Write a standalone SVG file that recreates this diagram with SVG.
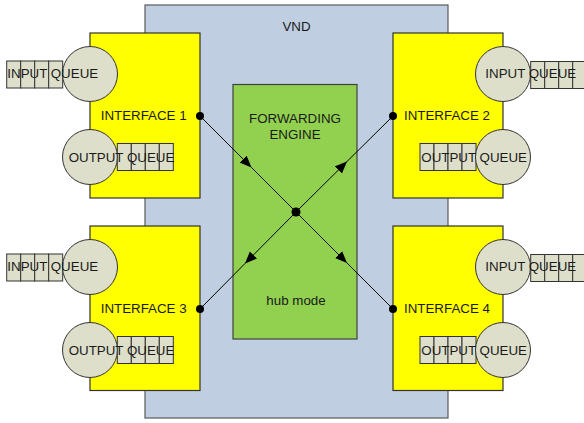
<svg xmlns="http://www.w3.org/2000/svg" width="584" height="423" viewBox="0 0 584 423">
<style>
text{font-family:"Liberation Sans",Arial,sans-serif;font-size:13.33px;fill:#1a1a1a}
.vnd{fill:#BFCFE1;stroke:#5a5a5a;stroke-width:1.2}
.ifc{fill:#FFFF00;stroke:#333;stroke-width:1.2}
.fwd{fill:#92D050;stroke:#404040;stroke-width:1.2}
.q{fill:#DDDFCB;stroke:#333;stroke-width:1}
.cell{fill:#DDDFCB;stroke:#333;stroke-width:1}
.ln{fill:none;stroke:#000;stroke-width:1;marker-mid:url(#arr)}
.dot{fill:#000}
.c{text-anchor:middle}
</style>
<defs>
<marker id="arr" markerUnits="userSpaceOnUse" markerWidth="14" markerHeight="12" refX="12" refY="5" orient="auto">
<path d="M0,0 L12,5 L0,10 Z" fill="#000"/>
</marker>
<g id="cells4">
<rect class="cell" x="0" y="0" width="14" height="27"/>
<rect class="cell" x="14" y="0" width="14" height="27"/>
<rect class="cell" x="28" y="0" width="14" height="27"/>
<rect class="cell" x="42" y="0" width="14" height="27"/>
</g>
</defs>
<g id="vnd">
<rect class="vnd" x="145" y="5" width="303" height="413"/>
<text class="c" x="296.5" y="31">VND</text>
</g>
<g id="forwarding-engine">
<rect class="fwd" x="233" y="84.5" width="124" height="254.5"/>
<text class="c" x="295" y="123">FORWARDING</text>
<text class="c" x="295" y="139">ENGINE</text>
<text class="c" x="296" y="305">hub mode</text>
</g>
<g id="interface1">
<rect class="ifc" x="90" y="33" width="110" height="165"/>
<use href="#cells4" x="6.7" y="61"/>
<circle class="q" cx="90" cy="74" r="27.5"/>
<text x="7.3" y="78">INPUT QUEUE</text>
<circle class="q" cx="90" cy="157" r="27.5"/>
<use href="#cells4" x="117.3" y="143.5"/>
<text x="68.7" y="162">OUTPUT QUEUE</text>
<text x="100.7" y="120">INTERFACE 1</text>
</g>
<g id="interface2">
<rect class="ifc" x="393" y="33" width="110" height="165"/>
<use href="#cells4" x="530.7" y="61.5"/>
<circle class="q" cx="503" cy="74" r="27.5"/>
<text x="485.3" y="78">INPUT QUEUE</text>
<use href="#cells4" x="420" y="143.5"/>
<circle class="q" cx="503" cy="157" r="27.5"/>
<text x="421.3" y="162">OUTPUT QUEUE</text>
<text x="404" y="120">INTERFACE 2</text>
</g>
<g id="interface3">
<rect class="ifc" x="90" y="226" width="110" height="164.5"/>
<use href="#cells4" x="6.7" y="254"/>
<circle class="q" cx="90" cy="267" r="27.5"/>
<text x="7.3" y="271">INPUT QUEUE</text>
<circle class="q" cx="90" cy="350" r="27.5"/>
<use href="#cells4" x="117.3" y="336.5"/>
<text x="68.7" y="355">OUTPUT QUEUE</text>
<text x="100.7" y="313">INTERFACE 3</text>
</g>
<g id="interface4">
<rect class="ifc" x="393" y="226" width="110" height="164.5"/>
<use href="#cells4" x="530.7" y="254.5"/>
<circle class="q" cx="503" cy="267" r="27.5"/>
<text x="485.3" y="271">INPUT QUEUE</text>
<use href="#cells4" x="420" y="336.5"/>
<circle class="q" cx="503" cy="350" r="27.5"/>
<text x="421.3" y="355">OUTPUT QUEUE</text>
<text x="404" y="313">INTERFACE 4</text>
</g>
<g id="connectors">
<polyline class="ln" points="200,116 251.5,167.5 296,212"/>
<polyline class="ln" points="296,212 347,161.5 393,116"/>
<polyline class="ln" points="296,212 245,263.5 200,309"/>
<polyline class="ln" points="296,212 347,263 393,309"/>
<circle class="dot" cx="200" cy="116" r="4"/>
<circle class="dot" cx="393" cy="116" r="4"/>
<circle class="dot" cx="200" cy="309" r="4"/>
<circle class="dot" cx="393" cy="309" r="4"/>
<circle class="dot" cx="296" cy="212" r="4.5"/>
</g>
</svg>
